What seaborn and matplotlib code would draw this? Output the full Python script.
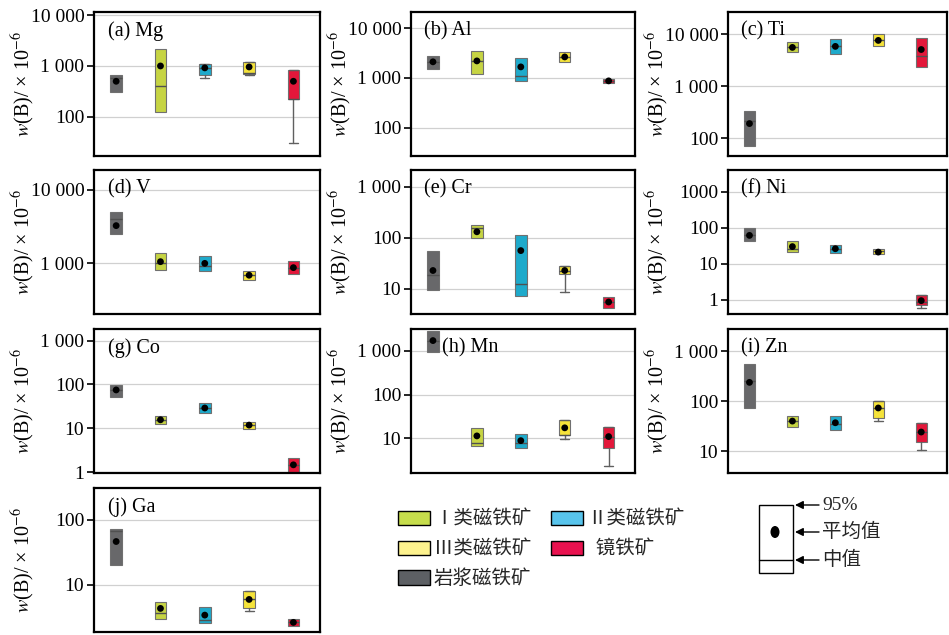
import numpy as np
import pandas as pd
import matplotlib
matplotlib.use('Agg')
from matplotlib import pyplot as plt
from matplotlib.patches import Patch, Rectangle, Ellipse
from matplotlib.ticker import NullLocator
import seaborn as sns

# ore types, in the order they sit along each panel
groups = ['岩浆磁铁矿', 'Ⅰ类磁铁矿', 'Ⅱ类磁铁矿', 'Ⅲ类磁铁矿', '镜铁矿']
box_colors = ['#68686a', '#c6d443', '#1eaacb', '#f5e33a', '#e3173a']
legend_colors = ['#5d6064', '#c6dd4c', '#58c4ec', '#fdf28e', '#e8124f']

# box = 95% range (bot..top), median, mean, lower whisker (None = no whisker)
Mg = {'top': [650, 2200, 1090, 1190, 840], 'bot': [310, 124, 676, 700, 229],
      'med': [580, 400, 900, 740, 229], 'mean': [500, 1000, 917, 957, 500],
      'low': [None, None, 570, 650, 30]}
Al = {'top': [2750, 3470, 2500, 3300, 955], 'bot': [1510, 1200, 870, 2100, 794],
      'med': [2100, 2190, 1100, 2630, 870], 'mean': [2100, 2190, 1660, 2630, 870],
      'low': [None, None, None, None, None]}
Ti = {'top': [327, 7000, 8000, 10000, 8370], 'bot': [70, 4470, 4270, 5860, 2340],
      'med': [210, 5600, 5860, 7640, 3900], 'mean': [190, 5600, 5860, 7640, 5100],
      'low': [None, None, None, None, None]}
V = {'top': [4940, 1365, 1243, 787, 1075], 'bot': [2540, 804, 780, 595, 726],
     'med': [4060, 1000, 920, 690, 875], 'mean': [3260, 1055, 1000, 690, 875],
     'low': [None, None, None, None, None]}
Cr = {'top': [54.5, 180, 112, 28.2, 7.0], 'bot': [9.4, 97, 7.3, 19.3, 4.25],
      'med': [18.7, 157, 12.4, 22.8, 5.5], 'mean': [22.8, 131, 56, 22.8, 5.5],
      'low': [None, None, None, 8.6, None]}
Ni = {'top': [100, 41.6, 32.3, 25.5, 1.36], 'bot': [41.6, 21, 19.8, 18, 0.7],
      'med': [61, 26, 26, 22, 0.87], 'mean': [61, 29.8, 26, 21, 0.94],
      'low': [None, None, None, None, 0.59]}
Co = {'top': [97, 19.1, 37.8, 14, 2.06], 'bot': [53, 12.5, 22, 9.7, 1.0],
      'med': [75, 15.6, 29, 11.8, 1.46], 'mean': [75, 15.6, 29, 11.8, 1.46],
      'low': [None, None, None, None, None]}
Mn = {'top': [2790, 17.5, 12.2, 25.6, 18.2], 'bot': [950, 6.5, 6.0, 11.9, 6.0],
      'med': [1716, 7.75, 7.75, 11.9, 10.9], 'mean': [1716, 11.3, 8.8, 17.3, 10.9],
      'low': [None, None, None, 9.5, 2.35]}
Zn = {'top': [568, 52, 52, 103, 37.4], 'bot': [73.8, 31, 26.3, 47, 15.5],
      'med': [259, 40.4, 34.7, 73.8, 24.4], 'mean': [240, 40.4, 37.4, 73.8, 24.4],
      'low': [None, None, None, 40.4, 10.6]}
Ga = {'top': [71.8, 5.54, 4.64, 8.1, 2.96], 'bot': [20.3, 2.96, 2.57, 4.37, 2.35],
      'med': [67.7, 3.75, 2.9, 6.0, 2.67], 'mean': [46.4, 4.37, 3.45, 6.0, 2.67],
      'low': [None, None, None, 3.98, None]}

panel_titles = ['(a) Mg', '(b) Al', '(c) Ti', '(d) V', '(e) Cr',
                '(f) Ni', '(g) Co', '(h) Mn', '(i) Zn', '(j) Ga']
panel_data = [Mg, Al, Ti, V, Cr, Ni, Co, Mn, Zn, Ga]
y_limits = [(17, 11500), (27, 21000), (45, 27000), (205, 18600), (3.2, 2130),
            (0.4, 4000), (0.95, 1850), (1.6, 3160), (3.7, 2800), (1.9, 307)]
y_ticks = [[100, 1000, 10000], [100, 1000, 10000], [100, 1000, 10000],
           [1000, 10000], [10, 100, 1000], [1, 10, 100, 1000],
           [1, 10, 100, 1000], [10, 100, 1000], [10, 100, 1000], [10, 100]]
y_ticklabels = [['100', '1 000', '10 000'], ['100', '1 000', '10 000'],
                ['100', '1 000', '10 000'], ['1 000', '10 000'],
                ['10', '100', '1 000'], ['1', '10', '100', '1000'],
                ['1', '10', '100', '1 000'], ['10', '100', '1 000'],
                ['10', '100', '1 000'], ['10', '100']]

sns.set_theme(style='white')
plt.rcParams['font.family'] = ['Liberation Serif', 'Noto Sans CJK SC', 'DejaVu Sans']
plt.rcParams['mathtext.fontset'] = 'stix'

W, H = 949, 635
fig = plt.figure(figsize=(W / 100, H / 100), dpi=100)

col_left = [94, 411, 728]
col_width = [226, 224, 219]
row_top = [12, 170, 329, 488]
ax_h = 144

positions = np.arange(len(groups))

for i, (title, d) in enumerate(zip(panel_titles, panel_data)):
    r, c = divmod(i, 3)
    ax = fig.add_axes([col_left[c] / W, 1 - (row_top[r] + ax_h) / H,
                       col_width[c] / W, ax_h / H])
    stats = []
    caps = []
    for k in range(len(groups)):
        low = d['low'][k]
        stats.append({'q1': d['bot'][k], 'q3': d['top'][k], 'med': d['med'][k],
                      'whislo': low if low is not None else d['bot'][k],
                      'whishi': d['top'][k], 'fliers': []})
        caps.append(0.2 if low is not None else 0.0)
    bp = ax.bxp(stats, positions=positions, widths=0.26, patch_artist=True,
                showfliers=False, capwidths=caps,
                boxprops=dict(edgecolor='#707070', linewidth=0.8),
                medianprops=dict(color='#505050', linewidth=1.0),
                whiskerprops=dict(color='#606060', linewidth=1.0),
                capprops=dict(color='#606060', linewidth=1.0))
    for patch, col in zip(bp['boxes'], box_colors):
        patch.set_facecolor(col)
    sns.scatterplot(x=positions, y=d['mean'], ax=ax, color='black', s=24,
                    edgecolor='none', zorder=5, legend=False)
    ax.set_yscale('log')
    ax.set_ylim(*y_limits[i])
    ax.set_yticks(y_ticks[i], y_ticklabels[i])
    ax.yaxis.set_minor_locator(NullLocator())
    ax.set_xlim(-0.5, 4.6)
    ax.set_xticks([])
    ax.grid(axis='y', color='#d0d0d0', linewidth=0.9)
    ax.set_axisbelow(True)
    for sp in ax.spines.values():
        sp.set_color('black')
        sp.set_linewidth(1.6)
    ax.tick_params(axis='y', left=True, direction='out', length=5, width=1.2,
                   labelsize=14, pad=2, colors='black')
    ax.set_ylabel(r'$w$(B)/ × 10$^{-6}$', fontsize=14.5, color='black')
    ax.yaxis.set_label_coords(-57 / col_width[c], 0.5)
    tx = 0.14 if title == '(h) Mn' else 0.06
    ax.text(tx, 0.87, title, transform=ax.transAxes, fontsize=14.5,
            va='center', ha='left', color='black')

# legend of ore types
order = [1, 3, 0, 2, 4]
leg_labels = ['岩浆磁铁矿', 'Ⅰ类磁铁矿', 'Ⅱ类磁铁矿', 'Ⅲ类磁铁矿', '  镜铁矿']
handles = [Patch(facecolor=legend_colors[k], edgecolor='black', linewidth=1.0)
           for k in order]
fig.legend(handles, [leg_labels[k] for k in order], loc='upper left',
           bbox_to_anchor=(398 / W, 1 - 509 / H), ncol=2, frameon=False,
           borderaxespad=0, borderpad=0, handlelength=1.65, handleheight=0.77,
           handletextpad=0.2, labelspacing=0.45, columnspacing=1.0,
           prop={'family': ['Noto Sans CJK SC'], 'size': 14})

# key for the box symbol
kx = fig.add_axes([740 / W, 1 - 590 / H, 200 / W, 95 / H])
kx.set_xlim(740, 940)
kx.set_ylim(590, 495)
kx.axis('off')
kx.add_patch(Rectangle((759, 505), 34, 68, facecolor='white', edgecolor='black', lw=1.0))
kx.plot([759, 793], [560, 560], color='black', lw=1.0)
kx.add_patch(Ellipse((775, 532), 9, 12, facecolor='black', edgecolor='none'))
for yy, lab in zip([505, 532, 560], ['95%', '平均值', '中值']):
    kx.annotate('', xy=(795, yy), xytext=(819, yy),
                arrowprops=dict(arrowstyle='-|>', color='black', lw=1.0,
                                shrinkA=0, shrinkB=0, mutation_scale=12))
    kx.text(822, yy, lab, ha='left', va='center', fontsize=14,
            family=['Liberation Serif', 'Noto Sans CJK SC'])

fig.savefig('out.png', dpi=100)
